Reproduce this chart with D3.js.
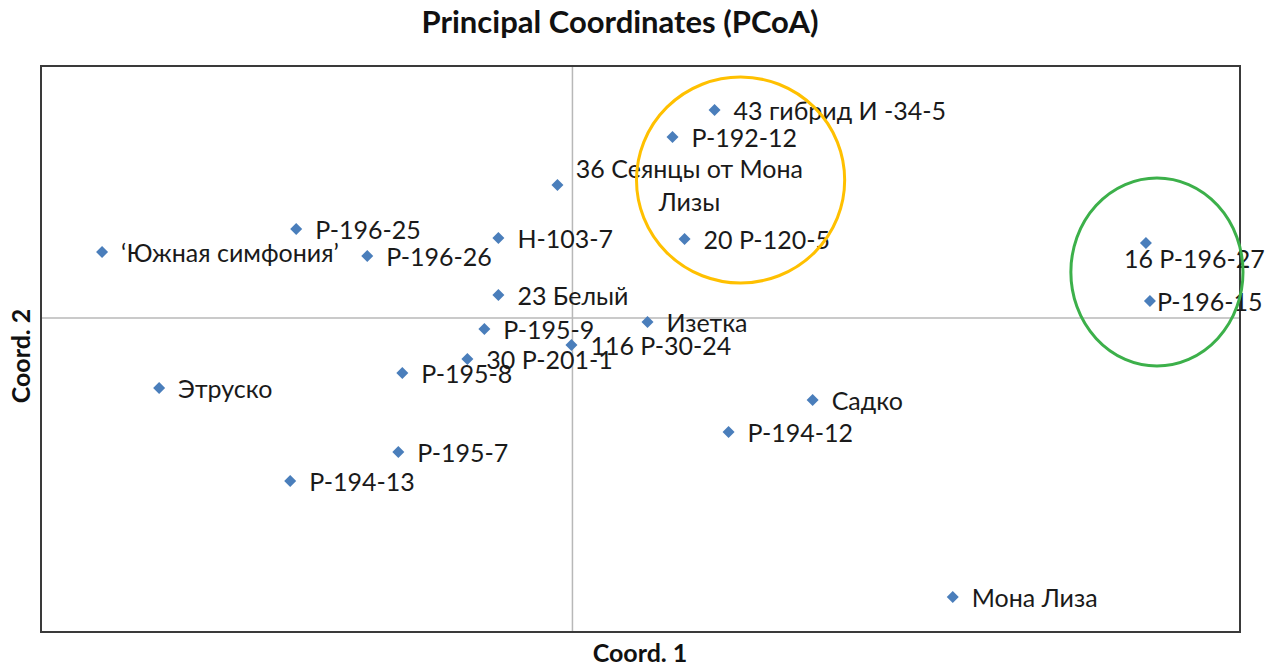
<!DOCTYPE html>
<html><head><meta charset="utf-8">
<script src="https://cdn.jsdelivr.net/npm/d3@7"></script>
<style>body{margin:0;background:#fff}svg{display:block}</style>
</head><body>
<svg id="c" width="1273" height="667"></svg>
<script>
// Data (Coord. 1, Coord. 2)
const names = ["‘Южная симфония’","P-196-25","P-196-26","H-103-7","36 Сеянцы от Мона Лизы","23 Белый","P-195-9","116 P-30-24","30 P-201-1","P-195-8","Этруско","P-195-7","P-194-13","43 гибрид И -34-5","P-192-12","20 P-120-5","Изетка","Садко","P-194-12","Мона Лиза","16 P-196-27","P-196-15"];
const coord1 = [-0.470,-0.276,-0.205,-0.074,-0.015,-0.074,-0.088,-0.001,-0.105,-0.170,-0.413,-0.174,-0.282,0.142,0.100,0.112,0.075,0.240,0.156,0.380,0.573,0.577];
const coord2 = [0.066,0.089,0.062,0.080,0.133,0.023,-0.011,-0.027,-0.041,-0.055,-0.070,-0.134,-0.163,0.208,0.181,0.079,-0.004,-0.082,-0.114,-0.279,0.075,0.017];
// label placement: "r" right of marker, "t" tight right, "b" below, "m" two-line above-right
const labelPos = ["r","r","r","r","m","r","r","r","r","r","r","r","r","r","r","r","r","r","r","r","b","t"];
const xDomain = [-0.531, 0.667];
const yDomain = [-0.314, 0.252];
// group ellipses: centre x, centre y, radius x, radius y, colour
const groupCx = [0.168, 0.584];
const groupCy = [0.138, 0.046];
const groupRx = [0.104, 0.086];
const groupRy = [0.103, 0.094];
const groupColor = ["#FFC000", "#3CB04A"];

const svg = d3.select("#c");
const L = 41, R = 1240, T = 66, B = 632;
const x = d3.scaleLinear().domain(xDomain).range([L, R]);
const y = d3.scaleLinear().domain(yDomain).range([B, T]);
const font = "Lato, 'Open Sans', sans-serif";

// zero axes
svg.append("line").attr("x1", x(0)).attr("x2", x(0)).attr("y1", T).attr("y2", B)
  .attr("stroke", "#b8b8b8").attr("stroke-width", 1.5);
svg.append("line").attr("x1", L).attr("x2", R).attr("y1", y(0)).attr("y2", y(0))
  .attr("stroke", "#b8b8b8").attr("stroke-width", 1.5);

// frame
svg.append("rect").attr("x", L).attr("y", T).attr("width", R - L).attr("height", B - T)
  .attr("fill", "none").attr("stroke", "#3a3a3a").attr("stroke-width", 2);

// points (square diamonds)
const h = 6;
const diamond = `M0,${-h}L${h},0L0,${h}L${-h},0Z`;
const idx = d3.range(names.length);
svg.append("g").selectAll("path").data(idx).join("path")
  .attr("d", diamond)
  .attr("transform", i => `translate(${x(coord1[i])},${y(coord2[i])})`)
  .attr("fill", "#4A7EBB");

// labels
const lg = svg.append("g").attr("font-family", font).attr("font-size", 25).attr("fill", "#1a1a1a");
idx.forEach(i => {
  const px = x(coord1[i]), py = y(coord2[i]);
  const p = labelPos[i];
  if (p === "r") {
    lg.append("text").attr("x", px + 19).attr("y", py + 10).text(names[i]);
  } else if (p === "t") {
    lg.append("text").attr("x", px + 7).attr("y", py + 10).text(names[i]);
  } else if (p === "b") {
    lg.append("text").attr("x", px - 22).attr("y", py + 25).text(names[i]);
  } else {
    const parts = ["36 Сеянцы от Мона", "Лизы"];
    const t = lg.append("text").attr("text-anchor", "middle");
    t.append("tspan").attr("x", px + 132).attr("y", py - 7).text(parts[0]);
    t.append("tspan").attr("x", px + 132).attr("y", py + 26).text(parts[1]);
  }
});

// group ellipses
svg.append("g").selectAll("ellipse").data(d3.range(groupCx.length)).join("ellipse")
  .attr("cx", i => x(groupCx[i])).attr("cy", i => y(groupCy[i]))
  .attr("rx", i => x(groupRx[i]) - x(0)).attr("ry", i => y(0) - y(groupRy[i]))
  .attr("fill", "none").attr("stroke", i => groupColor[i]).attr("stroke-width", 3);

// title and axis titles
svg.append("text").attr("x", 620).attr("y", 33).attr("text-anchor", "middle")
  .attr("font-family", font).attr("font-weight", "bold").attr("font-size", 31)
  .attr("fill", "#111").text("Principal Coordinates (PCoA)");
svg.append("text").attr("x", 640).attr("y", 662).attr("text-anchor", "middle")
  .attr("font-family", font).attr("font-weight", "bold").attr("font-size", 25)
  .attr("fill", "#111").text("Coord. 1");
svg.append("text").attr("transform", "translate(30,356) rotate(-90)").attr("text-anchor", "middle")
  .attr("font-family", font).attr("font-weight", "bold").attr("font-size", 25)
  .attr("fill", "#111").text("Coord. 2");
</script>
</body></html>
